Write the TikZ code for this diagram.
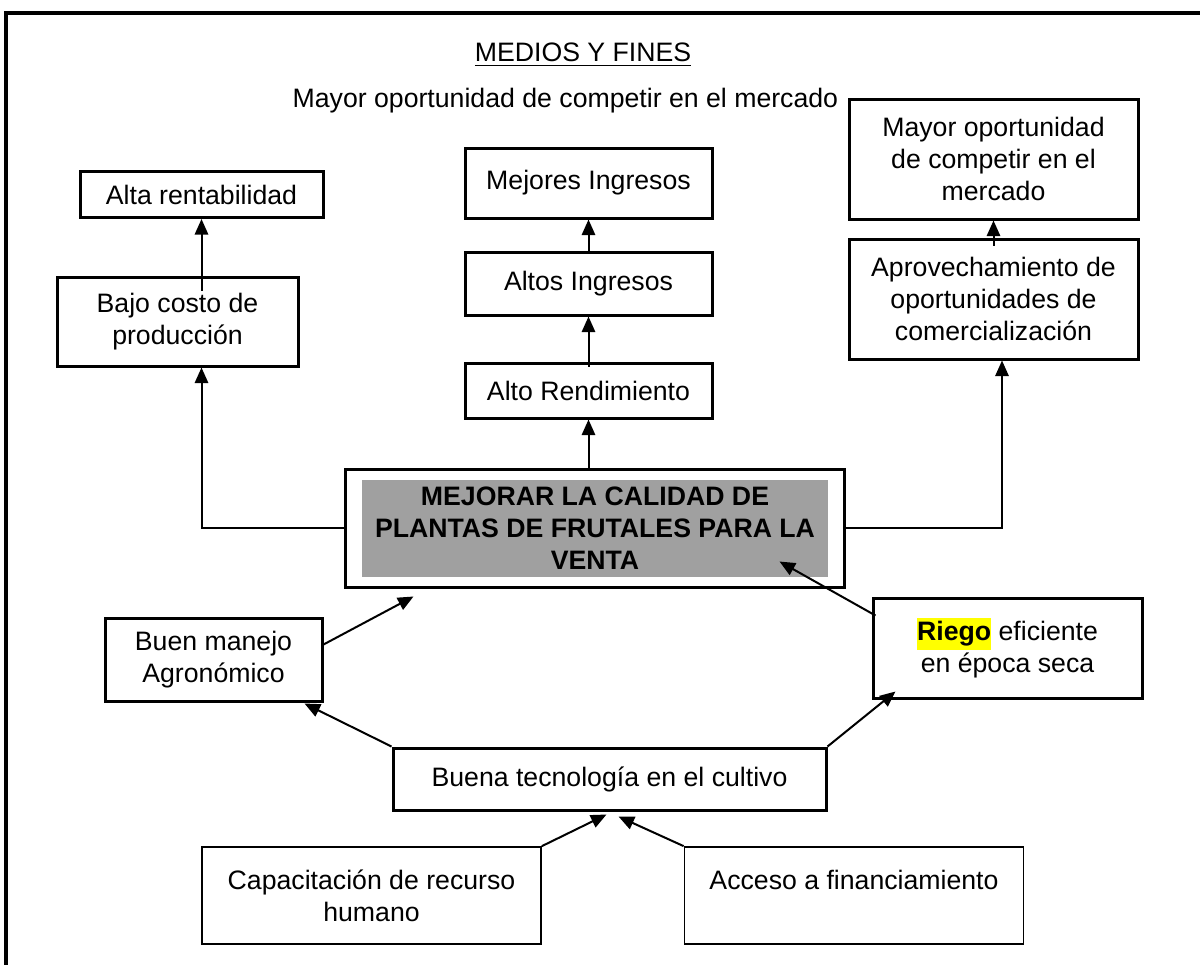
\documentclass[tikz,border=0pt]{standalone}
\usepackage{fontspec}
\setmainfont{Liberation Sans}
\usepackage{tikz}
\usetikzlibrary{arrows.meta,calc}
\definecolor{goalgray}{RGB}{160,160,160}
\definecolor{markyellow}{RGB}{255,255,0}
\newdimen\px \px=0.45pt

\begin{document}
\begin{tikzpicture}[
    x=0.45pt, y=-0.45pt,
    every node/.style={font=\fontsize{12}{14.4}\selectfont},
    plainbox/.style={rectangle, draw=black, line width=1.35pt, align=center,
                     inner sep=0pt, fill=white},
    lowbox/.style={plainbox, line width=0.8pt},
    goalbox/.style={rectangle, fill=goalgray, align=center, inner sep=0pt,
                    font=\fontsize{12}{14.4}\selectfont\bfseries},
    arrow/.style={-{Triangle[length=7pt,width=6pt]}, line width=0.9pt},
  ]
  \useasboundingbox (0,0) rectangle (1200,964);
  \draw[line width=1.8pt] (6,975) -- (6,13) -- (1210,13);

  \node (titulo) at (583,55) {\underline{MEDIOS Y FINES}};
  \node[anchor=base east] (fines) at (846,107)
        {Mayor oportunidad de competir en el mercado};

  % fines
  \node[plainbox, minimum width=243\px, minimum height=46\px] (alta)
        at (201.5,194.5) {Alta rentabilidad};
  \node[plainbox, minimum width=241\px, minimum height=89\px] (bajo)
        at (177.5,321.5) {Bajo costo de\\producción};
  \node[plainbox, minimum width=247\px, minimum height=70\px] (mejores)
        at (588.5,183) {Mejores Ingresos};
  \node[plainbox, minimum width=247\px, minimum height=63\px] (altos)
        at (588.5,283.5) {Altos Ingresos};
  \node[plainbox, minimum width=247\px, minimum height=55\px] (rend)
        at (588.5,390.5) {Alto Rendimiento};
  \node[plainbox, minimum width=289\px, minimum height=120\px] (mayor)
        at (993.5,159) {Mayor oportunidad\\de competir en el\\mercado};
  \node[plainbox, minimum width=289\px, minimum height=120\px] (aprov)
        at (993.5,299) {Aprovechamiento de\\oportunidades de\\comercialización};

  % objetivo central
  \node[plainbox, minimum width=499\px, minimum height=118\px] (central)
        at (594.5,528) {};
  \node[goalbox, minimum width=466\px, minimum height=97\px] (objetivo)
        at (595,528.5) {MEJORAR LA CALIDAD DE\\PLANTAS DE FRUTALES PARA LA\\VENTA};

  % medios
  \node[plainbox, minimum width=217\px, minimum height=83\px] (manejo)
        at (213.5,659.5) {Buen manejo\\Agronómico};
  \node[plainbox, minimum width=269\px, minimum height=100\px] (riego)
        at (1007.5,648) {\fboxsep=0pt\colorbox{markyellow}{\strut\textbf{Riego}}
        eficiente\\en época seca};
  \node[plainbox, minimum width=433\px, minimum height=62\px] (tecno)
        at (609.5,779) {Buena tecnología en el cultivo};
  \node[lowbox, minimum width=339\px, minimum height=97\px] (capac)
        at (371.5,895.5) {Capacitación de recurso\\humano};
  \node[lowbox, minimum width=339\px, minimum height=97\px] (acceso)
        at (854,895.5) {Acceso a financiamiento\\\mbox{}};

  \draw[arrow] ($(alta.south |- bajo.north)+(0,15)$) -- (alta.south);
  \draw[arrow] (central.west) -| (bajo.south -| alta.south);
  \draw[arrow] (central.north -| rend.south) -- (rend.south);
  \draw[arrow] ($(rend.north)+(0,5)$) -- (altos.south);
  \draw[arrow] (altos.north) -- (mejores.south);
  \draw[arrow] (central.east) -| ($(aprov.south)+(8.5,0)$);
  \draw[arrow] ($(aprov.north)+(0,8)$) -- (mayor.south);
  \draw[arrow] ($(manejo.east)+(0,-15)$) -- ($(central.south west)+(70,8)$);
  \draw[arrow] ($(riego.north west)+(4,19)$) -- ($(central.south east)+(-66,-27)$);
  \draw[arrow] (tecno.north west) -- ($(manejo.south east)+(-19,1)$);
  \draw[arrow] (tecno.north east) -- ($(riego.south west)+(24,-8)$);
  \draw[arrow] (capac.north east) -- ($(tecno.south)+(-3,3)$);
  \draw[arrow] (acceso.north west) -- ($(tecno.south)+(9,5)$);
\end{tikzpicture}
\end{document}
